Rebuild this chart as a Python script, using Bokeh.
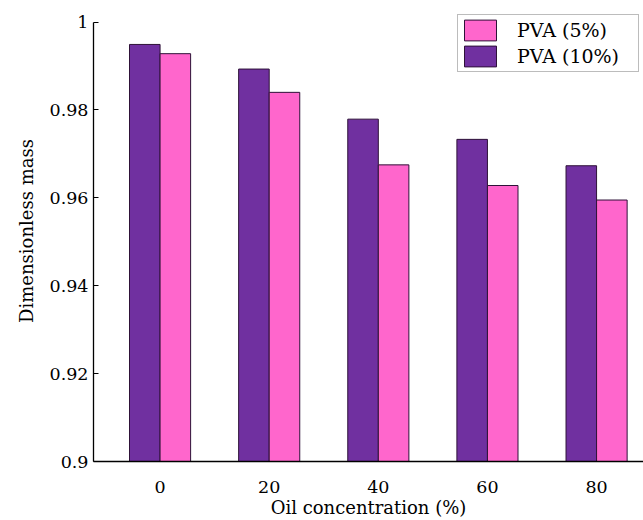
from bokeh.plotting import figure
from bokeh.models import Range1d, NumeralTickFormatter, FixedTicker, Legend, LegendItem, ColumnDataSource
from bokeh.transform import dodge
from bokeh.embed import file_html
from bokeh.resources import INLINE

categories = ["0", "20", "40", "60", "80"]
pva_10 = [0.9949, 0.9893, 0.9779, 0.9733, 0.9673]
pva_5 = [0.9928, 0.9840, 0.9675, 0.9628, 0.9595]
y_ticks = [0.9, 0.92, 0.94, 0.96, 0.98, 1.0]
x_label = "Oil concentration (%)"
y_label = "Dimensionless mass"
series_names = ["PVA (5%)", "PVA (10%)"]

FONT = "DejaVu Serif"
PURPLE = "#7030A0"
PINK = "#FF66CC"
EDGE = "#2e1238"

idx = list(range(len(categories)))
src = ColumnDataSource(dict(x=idx, pva10=pva_10, pva5=pva_5))

p = figure(width=643, height=520, output_backend="svg", toolbar_location=None,
           x_range=Range1d(-0.61, 4.43), y_range=Range1d(0.9, 1.0049),
           min_border_left=93, min_border_right=0, min_border_top=0, min_border_bottom=59)
p.outline_line_color = None
p.xgrid.grid_line_color = None
p.ygrid.grid_line_color = None
p.background_fill_color = "white"
p.border_fill_color = "white"

bw = 0.28
r10 = p.vbar(x=dodge("x", -0.14, range=p.x_range), top="pva10", bottom=0.9, width=bw, source=src,
             fill_color=PURPLE, line_color=EDGE, line_width=1)
r5 = p.vbar(x=dodge("x", 0.14, range=p.x_range), top="pva5", bottom=0.9, width=bw, source=src,
            fill_color=PINK, line_color=EDGE, line_width=1)

p.xaxis.ticker = FixedTicker(ticks=idx)
p.xaxis.major_label_overrides = {i: c for i, c in zip(idx, categories)}
p.xaxis.minor_tick_line_color = None
p.xaxis.axis_label = x_label
p.xaxis.major_label_standoff = 13
p.xaxis.axis_label_standoff = 1

p.yaxis.ticker = FixedTicker(ticks=y_ticks)
p.yaxis.formatter = NumeralTickFormatter(format="0.[00]")
p.yaxis.bounds = (0.9, 1.0)
p.yaxis.major_tick_in = 5
p.yaxis.major_tick_out = 0
p.yaxis.minor_tick_line_color = None
p.yaxis.axis_label = y_label
p.yaxis.major_label_standoff = 5
p.yaxis.axis_label_standoff = 10

for ax in (p.xaxis[0], p.yaxis[0]):
    ax.axis_line_color = "black"
    ax.axis_line_width = 1.3
    ax.major_label_text_font = FONT
    ax.major_label_text_font_size = "17.5px"
    ax.major_label_text_color = "black"
    ax.axis_label_text_font = FONT
    ax.axis_label_text_font_size = "18px"
    ax.axis_label_text_font_style = "normal"
    ax.axis_label_text_color = "black"
p.yaxis.major_tick_line_color = "black"
p.xaxis.major_tick_line_color = None

legend = Legend(items=[LegendItem(label=series_names[0], renderers=[r5]),
                       LegendItem(label=series_names[1], renderers=[r10])],
                location=(364, 389), padding=2, spacing=0, margin=0,
                glyph_width=40, glyph_height=26, label_standoff=17, label_width=119,
                label_text_font=FONT, label_text_font_size="19px", label_text_color="black",
                border_line_color="#7a7a7a", border_line_width=1.3, background_fill_alpha=1)
p.add_layout(legend, "center")

open("out.html", "w").write(file_html(p, INLINE))
